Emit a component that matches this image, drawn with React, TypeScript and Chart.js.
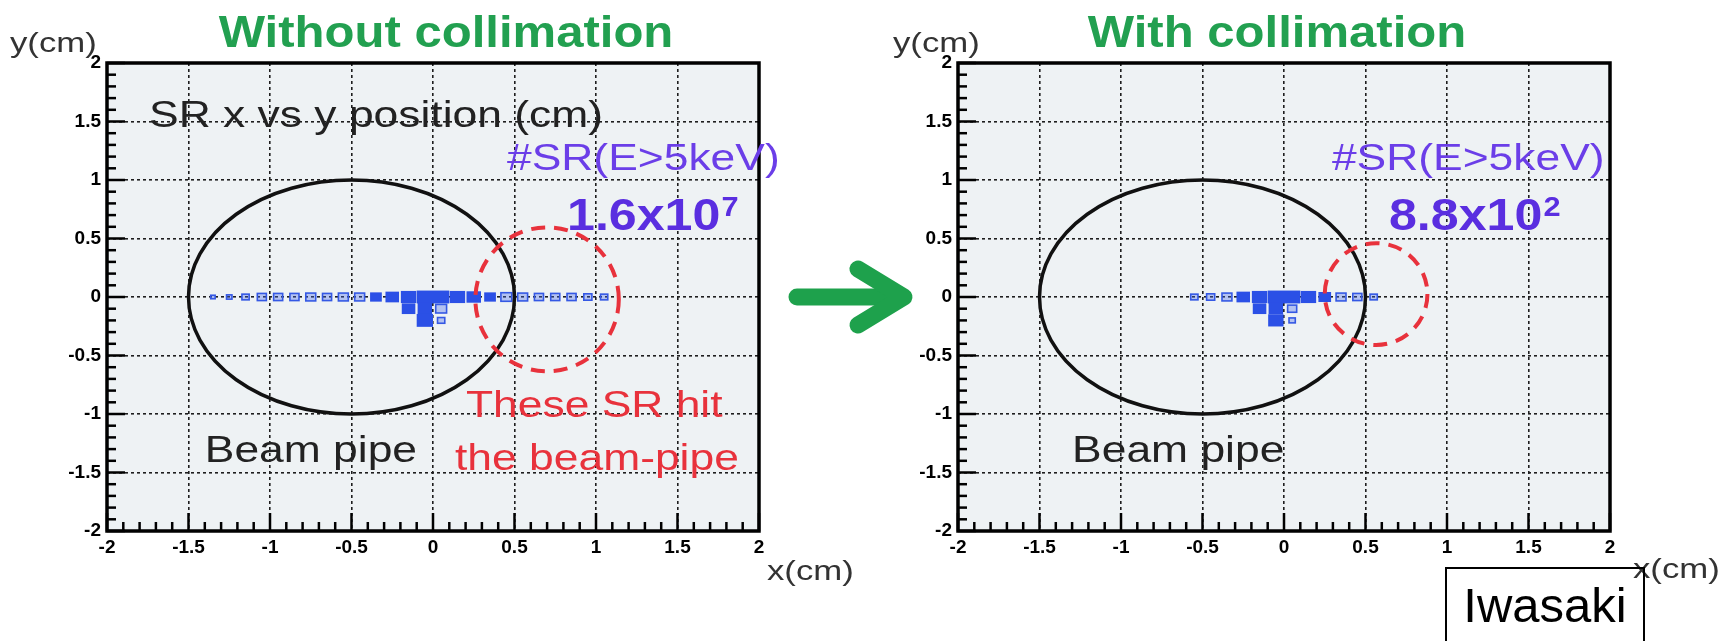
import React, { useEffect, useRef } from "react";
import { Chart, registerables } from "chart.js";

Chart.register(...registerables);

const FONT = '"Liberation Sans", Arial, Helvetica, sans-serif';

// ---- axes (cm) ----
const axisRange = [-2, 2];
const majorStep = 0.5;
const minorStep = 0.1;
const binSize = [0.1, 0.1];

// ---- SR hit histogram, without collimation (bin centres in cm, counts arb.) ----
const noCollBinX = [
  -1.35, -1.25, -1.15, -1.05, -0.95, -0.85, -0.75, -0.65, -0.55, -0.45, -0.35, -0.25, -0.15,
  -0.05, 0.05, 0.15, 0.25, 0.35, 0.45, 0.55, 0.65, 0.75, 0.85, 0.95, 1.05,
  -0.15, -0.05, 0.05,
  -0.05, 0.05,
];
const noCollBinY = [
  0, 0, 0, 0, 0, 0, 0, 0, 0, 0, 0, 0, 0, 0, 0, 0, 0, 0, 0, 0, 0, 0, 0, 0, 0,
  -0.1, -0.1, -0.1,
  -0.2, -0.2,
];
const noCollCounts = [
  6, 9, 16, 25, 25, 25, 30, 25, 30, 30, 42, 56, 72, 81, 81, 72, 64, 42, 36, 30, 25, 25, 25, 20, 16,
  56, 64, 36,
  81, 16,
];

// ---- SR hit histogram, with collimation ----
const collBinX = [
  -0.55, -0.45, -0.35, -0.25, -0.15, -0.05, 0.05, 0.15, 0.25, 0.35, 0.45, 0.55,
  -0.15, -0.05, 0.05,
  -0.05, 0.05,
];
const collBinY = [
  0, 0, 0, 0, 0, 0, 0, 0, 0, 0, 0, 0,
  -0.1, -0.1, -0.1,
  -0.2, -0.2,
];
const collCounts = [
  16, 20, 30, 56, 72, 81, 81, 72, 49, 30, 25, 16,
  56, 64, 25,
  72, 12,
];

// ---- beam pipe and hit regions (cm) ----
const beamPipeCenter = [-0.5, 0];
const beamPipeRadius = [1.0, 1.0];
const noCollHitCenter = [0.7, -0.02];
const noCollHitRadius = [0.44, 0.615];
const collHitCenter = [0.565, 0.025];
const collHitRadius = [0.315, 0.435];

// ---- labels ----
const panelTitles = ["Without collimation", "With collimation"];
const srCountLabel = "#SR(E>5keV)";
const srCountMantissa = ["1.6x10", "8.8x10"];
const srCountExponent = ["7", "2"];

type TextItem = {
  text: string;
  x: number;
  y: number;
  data?: boolean;
  font: string;
  color: string;
  stretch: number;
  align?: "left" | "center";
  sup?: { text: string; font: string; rise: number };
};

type PanelCfg = {
  binX: number[];
  binY: number[];
  counts: number[];
  hitCenter: number[];
  hitRadius: number[];
  texts: TextItem[];
};

function drawText(ctx: CanvasRenderingContext2D, t: TextItem, px: number, py: number) {
  ctx.save();
  ctx.font = t.font;
  ctx.fillStyle = t.color;
  ctx.textBaseline = "alphabetic";
  ctx.textAlign = "left";
  const w = ctx.measureText(t.text).width * t.stretch;
  let supW = 0;
  if (t.sup) {
    ctx.font = t.sup.font;
    supW = ctx.measureText(t.sup.text).width * t.stretch;
    ctx.font = t.font;
  }
  const x0 = t.align === "center" ? px - (w + supW) / 2 : px;
  ctx.translate(x0, py);
  ctx.scale(t.stretch, 1);
  ctx.fillText(t.text, 0, 0);
  if (t.sup) {
    ctx.font = t.sup.font;
    ctx.fillText(t.sup.text, w / t.stretch + 1, -t.sup.rise);
  }
  ctx.restore();
}

function makePanelPlugin(cfg: PanelCfg) {
  return {
    id: "panel",
    beforeDraw(chart: any) {
      const { ctx, chartArea: a } = chart;
      ctx.save();
      ctx.fillStyle = "#eef2f4";
      ctx.fillRect(a.left, a.top, a.right - a.left, a.bottom - a.top);
      ctx.restore();
    },
    afterDatasetsDraw(chart: any) {
      const { ctx, chartArea: a } = chart;
      const xs = chart.scales.x;
      const ys = chart.scales.y;

      // histogram boxes (area proportional to counts)
      const meta = chart.getDatasetMeta(0);
      const maxC = Math.max(...cfg.counts);
      const bw = Math.abs(xs.getPixelForValue(binSize[0]) - xs.getPixelForValue(0));
      const bh = Math.abs(ys.getPixelForValue(binSize[1]) - ys.getPixelForValue(0));
      ctx.save();
      meta.data.forEach((el: any, i: number) => {
        const f = Math.sqrt(cfg.counts[i] / maxC);
        const w = bw * f;
        const h = bh * f * 1.1;
        if (f >= 0.7) {
          ctx.fillStyle = "#2b50e6";
          ctx.fillRect(el.x - w / 2, el.y - h / 2, w, h);
        } else {
          ctx.fillStyle = "rgba(70,105,235,0.35)";
          ctx.fillRect(el.x - w / 2, el.y - h / 2, w, h);
          ctx.strokeStyle = "#3458e4";
          ctx.lineWidth = 1.6;
          ctx.strokeRect(el.x - w / 2, el.y - h / 2, w, h);
        }
      });
      ctx.restore();

      const ellipse = (c: number[], r: number[]) => {
        const cx = xs.getPixelForValue(c[0]);
        const cy = ys.getPixelForValue(c[1]);
        const rx = Math.abs(xs.getPixelForValue(c[0] + r[0]) - cx);
        const ry = Math.abs(ys.getPixelForValue(c[1] + r[1]) - cy);
        ctx.beginPath();
        ctx.ellipse(cx, cy, rx, ry, 0, 0, Math.PI * 2);
        ctx.stroke();
      };

      // beam pipe
      ctx.save();
      ctx.strokeStyle = "#111";
      ctx.lineWidth = 3.5;
      ellipse(beamPipeCenter, beamPipeRadius);
      ctx.restore();

      // hit region
      ctx.save();
      ctx.strokeStyle = "#e8323c";
      ctx.lineWidth = 4;
      ctx.setLineDash([14, 9]);
      ellipse(cfg.hitCenter, cfg.hitRadius);
      ctx.restore();

      // frame
      ctx.save();
      ctx.strokeStyle = "#000";
      ctx.lineWidth = 3.5;
      ctx.setLineDash([]);
      ctx.strokeRect(a.left, a.top, a.right - a.left, a.bottom - a.top);
      ctx.restore();

      // inner ticks
      ctx.save();
      ctx.strokeStyle = "#000";
      ctx.lineWidth = 2.5;
      ctx.setLineDash([]);
      const n = Math.round((axisRange[1] - axisRange[0]) / minorStep);
      const perMajor = Math.round(majorStep / minorStep);
      for (let k = 0; k <= n; k++) {
        const v = axisRange[0] + k * minorStep;
        const len = k % perMajor === 0 ? 18 : 9;
        const px = xs.getPixelForValue(v);
        const py = ys.getPixelForValue(v);
        ctx.beginPath();
        ctx.moveTo(px, a.bottom);
        ctx.lineTo(px, a.bottom - len);
        ctx.stroke();
        ctx.beginPath();
        ctx.moveTo(a.left, py);
        ctx.lineTo(a.left + len, py);
        ctx.stroke();
      }
      ctx.restore();
    },
    afterDraw(chart: any) {
      const { ctx } = chart;
      const xs = chart.scales.x;
      const ys = chart.scales.y;
      cfg.texts.forEach((t) => {
        const px = t.data ? xs.getPixelForValue(t.x) : t.x;
        const py = t.data ? ys.getPixelForValue(t.y) : t.y;
        drawText(ctx, t, px, py);
      });
    },
  };
}

const ROOT_FONT = `37px ${FONT}`;
const ROOT_STRETCH = 1.2;
const PURPLE = "#6b3ee8";
const NUM_PURPLE = "#5a2ee0";
const RED = "#e8323c";
const GREEN = "#22a050";

function panelTexts(idx: number, titleX: number, yTitleX: number, xTitleX: number, xTitleY: number): TextItem[] {
  return [
    { text: panelTitles[idx], x: titleX, y: 47, font: `bold 44px ${FONT}`, color: GREEN, stretch: 1.115, align: "center" },
    { text: "y(cm)", x: yTitleX, y: 52, font: `28px ${FONT}`, color: "#333", stretch: 1.24 },
    { text: "x(cm)", x: xTitleX, y: xTitleY, font: `28px ${FONT}`, color: "#333", stretch: 1.24 },
  ];
}

const leftCfg: PanelCfg = {
  binX: noCollBinX,
  binY: noCollBinY,
  counts: noCollCounts,
  hitCenter: noCollHitCenter,
  hitRadius: noCollHitRadius,
  texts: [
    ...panelTexts(0, 446, 10, 767, 580),
    { text: "SR x vs y position (cm)", x: -1.742, y: 1.453, data: true, font: ROOT_FONT, color: "#222", stretch: ROOT_STRETCH },
    { text: srCountLabel, x: 0.454, y: 1.085, data: true, font: ROOT_FONT, color: PURPLE, stretch: ROOT_STRETCH },
    {
      text: srCountMantissa[0], x: 0.822, y: 0.573, data: true, font: `bold 44px ${FONT}`, color: NUM_PURPLE, stretch: 1.14,
      sup: { text: srCountExponent[0], font: `bold 27px ${FONT}`, rise: 14 },
    },
    { text: "Beam pipe", x: -1.4, y: -1.41, data: true, font: ROOT_FONT, color: "#222", stretch: ROOT_STRETCH },
    { text: "These SR hit", x: 0.202, y: -1.026, data: true, font: ROOT_FONT, color: RED, stretch: ROOT_STRETCH },
    { text: "the beam-pipe", x: 0.135, y: -1.479, data: true, font: ROOT_FONT, color: RED, stretch: ROOT_STRETCH },
  ],
};

const rightCfg: PanelCfg = {
  binX: collBinX,
  binY: collBinY,
  counts: collCounts,
  hitCenter: collHitCenter,
  hitRadius: collHitRadius,
  texts: [
    ...panelTexts(1, 417, 33, 773, 578),
    { text: srCountLabel, x: 0.294, y: 1.085, data: true, font: ROOT_FONT, color: PURPLE, stretch: ROOT_STRETCH },
    {
      text: srCountMantissa[1], x: 0.644, y: 0.573, data: true, font: `bold 44px ${FONT}`, color: NUM_PURPLE, stretch: 1.14,
      sup: { text: srCountExponent[1], font: `bold 27px ${FONT}`, rise: 14 },
    },
    { text: "Beam pipe", x: -1.3, y: -1.41, data: true, font: ROOT_FONT, color: "#222", stretch: ROOT_STRETCH },
  ],
};

const H = 641;

const tickLabel = (v: any) => `${Math.round(Number(v) * 10) / 10}`;

function Panel({ cfg, left, width, axisWidth, padRight }: { cfg: PanelCfg; left: number; width: number; axisWidth: number; padRight: number }) {
  const ref = useRef<HTMLCanvasElement>(null);
  useEffect(() => {
    const tickFont = { family: FONT, size: 19, weight: "bold" as const };
    const scaleCommon = {
      type: "linear" as const,
      min: axisRange[0],
      max: axisRange[1],
      grid: { color: "#1e1e1e", lineWidth: 1.6, drawTicks: false },
      border: { display: false, dash: [3, 3] },
    };
    const chart = new Chart(ref.current!, {
      type: "scatter",
      data: {
        datasets: [
          {
            label: "SR hits",
            data: cfg.binX.map((x, i) => ({ x, y: cfg.binY[i] })),
            pointRadius: 0,
            pointHoverRadius: 0,
          },
        ],
      },
      options: {
        responsive: false,
        animation: false,
        devicePixelRatio: 1,
        events: [],
        layout: { padding: { left: 0, top: 63, right: padRight, bottom: 0 } },
        plugins: { legend: { display: false }, tooltip: { enabled: false }, title: { display: false } },
        scales: {
          x: {
            ...scaleCommon,
            position: "bottom",
            ticks: { stepSize: majorStep, autoSkip: false, maxRotation: 0, padding: 5, font: tickFont, color: "#000", callback: tickLabel },
            afterFit: (s: any) => {
              s.height = 110;
            },
          },
          y: {
            ...scaleCommon,
            position: "left",
            ticks: { stepSize: majorStep, autoSkip: false, padding: 6, font: tickFont, color: "#000", callback: tickLabel },
            afterFit: (s: any) => {
              s.width = axisWidth;
            },
          },
        },
      },
      plugins: [makePanelPlugin(cfg)],
    } as any);
    return () => chart.destroy();
  }, []);
  return (
    <canvas
      ref={ref}
      width={width}
      height={H}
      style={{ position: "absolute", left, top: 0, width, height: H }}
    />
  );
}

export default function App() {
  return (
    <div
      style={{
        position: "fixed",
        left: 0,
        top: 0,
        width: 1729,
        height: H,
        background: "#fff",
        overflow: "hidden",
      }}
    >
      <Panel cfg={leftCfg} left={0} width={860} axisWidth={107} padRight={101} />
      <Panel cfg={rightCfg} left={860} width={869} axisWidth={98} padRight={119} />
      <svg
        width={1729}
        height={H}
        style={{ position: "absolute", left: 0, top: 0, pointerEvents: "none" }}
      >
        <line x1={797} y1={297} x2={900} y2={297} stroke="#1ea14c" strokeWidth={17} strokeLinecap="round" />
        <polyline
          points="858,269 904,297 858,325"
          fill="none"
          stroke="#1ea14c"
          strokeWidth={17}
          strokeLinecap="round"
          strokeLinejoin="round"
        />
      </svg>
      <div
        style={{
          position: "absolute",
          left: 1445,
          top: 567,
          width: 200,
          height: 100,
          boxSizing: "border-box",
          border: "2px solid #000",
          background: "transparent",
          fontFamily: FONT,
          fontSize: 49,
          lineHeight: "49px",
          paddingTop: 12,
          textAlign: "center",
          color: "#000",
        }}
      >
        Iwasaki
      </div>
    </div>
  );
}
